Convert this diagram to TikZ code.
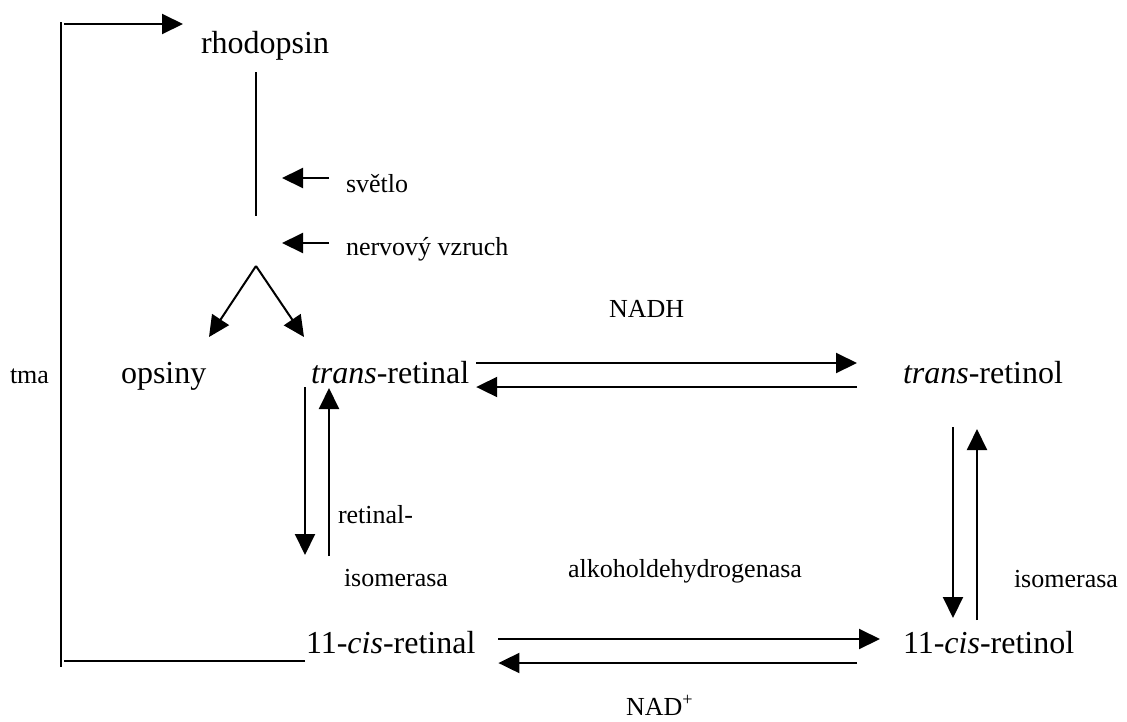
\documentclass[tikz,border=0pt]{standalone}
\usepackage{fontspec}
\setmainfont{Liberation Serif}
\usepackage{tikz}
\usetikzlibrary{arrows.meta,positioning}
\tikzset{
  BigLabel/.style={anchor=base west, inner sep=0pt, font=\fontsize{32}{38}\selectfont},
  SmallLabel/.style={anchor=base west, inner sep=0pt, font=\fontsize{26}{30}\selectfont},
  Arr/.style={-{Triangle[length=21pt,width=20pt]}}
}

\begin{document}
\begin{tikzpicture}[x=1pt, y=-1pt, line width=2pt]
  \useasboundingbox (0,0) rectangle (1127,721);
  % compounds of the cycle
  \node[BigLabel] (rhodopsin) at (200,53) {rhodopsin};
  \node[BigLabel] (opsiny) at (120,383) {opsiny};
  \node[BigLabel] (transRetinal) at (310,383) {\textit{trans}-retinal};
  \node[BigLabel] (transRetinol) at (902,383) {\textit{trans}-retinol};
  \node[BigLabel] (cisRetinal) at (305,653) {11-\textit{cis}-retinal};
  \node[BigLabel] (cisRetinol) at (902,653) {11-\textit{cis}-retinol};

  % conditions and enzymes
  \node[SmallLabel] (tma) at (9,383) {tma};
  \node[SmallLabel] (svetlo) at (345,192) {světlo};
  \node[SmallLabel] (vzruch) at (345,255) {nervový vzruch};
  \node[SmallLabel] (NADH) at (608,317) {NADH};
  \node[SmallLabel] (retIso) at (337,523) {retinal-};
  \node[SmallLabel] (isoLeft) at (343,586) {isomerasa};
  \node[SmallLabel] (alkohol) at (567,577) {alkoholdehydrogenasa};
  \node[SmallLabel] (isoRight) at (1013,587) {isomerasa};
  \node[SmallLabel] (NADplus) at (625,715) {NAD\textsuperscript{+}};

  % splitting of rhodopsin
  \coordinate (split) at (256,266);
  \draw ([shift={(56,19)}]rhodopsin.base west) -- ([shift={(0,-50)}]split);
  \draw[Arr] ([shift={(-16,-14)}]svetlo.base west) -- ([shift={(-63,-14)}]svetlo.base west);
  \draw[Arr] ([shift={(-16,-12)}]vzruch.base west) -- ([shift={(-63,-12)}]vzruch.base west);
  \draw[Arr] (split) -- ([shift={(89,-46)}]opsiny.base west);
  \draw[Arr] (split) -- ([shift={(-6,-46)}]transRetinal.base west);

  % regeneration in the dark
  \coordinate (loopTop) at (61,22);
  \coordinate (loopBot) at (61,667);
  \draw (loopTop) -- (loopBot);
  \draw ([shift={(0,8)}]cisRetinal.base west) -- ([shift={(3,-6)}]loopBot);
  \draw[Arr] ([shift={(3,2)}]loopTop) -- ([shift={(-17,-29)}]rhodopsin.base west);

  % reversible steps
  \draw[Arr] ([shift={(6,-20)}]transRetinal.base east) -- ([shift={(-45,-20)}]transRetinol.base west);
  \draw[Arr] ([shift={(-45,4)}]transRetinol.base west) -- ([shift={(6,4)}]transRetinal.base east);
  \draw[Arr] ([shift={(-5,4)}]transRetinal.base west) -- ([shift={(0,-98)}]cisRetinal.base west);
  \draw[Arr] ([shift={(24,-97)}]cisRetinal.base west) -- ([shift={(19,5)}]transRetinal.base west);
  \draw[Arr] ([shift={(51,44)}]transRetinol.base west) -- ([shift={(51,-35)}]cisRetinol.base west);
  \draw[Arr] ([shift={(75,-33)}]cisRetinol.base west) -- ([shift={(75,46)}]transRetinol.base west);
  \draw[Arr] ([shift={(22,-14)}]cisRetinal.base east) -- ([shift={(-22,-14)}]cisRetinol.base west);
  \draw[Arr] ([shift={(-45,10)}]cisRetinol.base west) -- ([shift={(22,10)}]cisRetinal.base east);
\end{tikzpicture}
\end{document}
